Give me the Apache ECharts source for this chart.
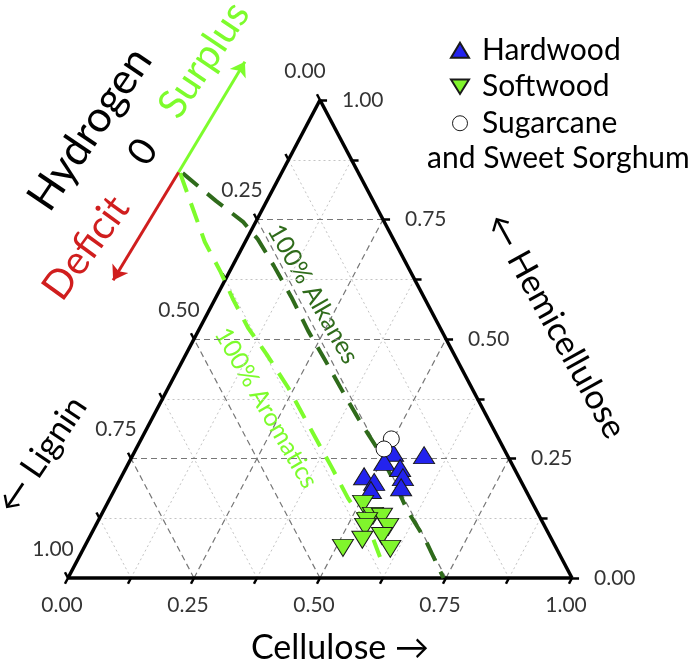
<!DOCTYPE html>
<html>
<head>
<meta charset="utf-8">
<script src="https://cdn.jsdelivr.net/npm/echarts@6/dist/echarts.min.js"></script>
<style>
  html, body { margin: 0; padding: 0; background: #fff; }
  #chart { width: 697px; height: 664px; }
</style>
</head>
<body>
<div id="chart"></div>
<script>
// tick values along each side of the triangle
const allTicks = [0, 0.125, 0.25, 0.375, 0.5, 0.625, 0.75, 0.875, 1]
const majorTicks = [0.25, 0.5, 0.75]
const minorTicks = [0.125, 0.375, 0.625, 0.875]
const labelValues = [0, 0.25, 0.5, 0.75, 1]
const tickLabels = ['0.00', '0.25', '0.50', '0.75', '1.00']

// samples as [cellulose, hemicellulose, lignin]
const hardwood = [
  [0.514, 0.262, 0.224],
  [0.578, 0.257, 0.165],
  [0.506, 0.243, 0.251],
  [0.544, 0.230, 0.226],
  [0.481, 0.213, 0.306],
  [0.507, 0.201, 0.292],
  [0.559, 0.211, 0.230],
  [0.566, 0.190, 0.244],
  [0.509, 0.184, 0.307]
]
const softwood = [
  [0.508, 0.155, 0.337],
  [0.540, 0.130, 0.330],
  [0.559, 0.128, 0.313],
  [0.534, 0.119, 0.347],
  [0.536, 0.107, 0.357],
  [0.582, 0.107, 0.311],
  [0.579, 0.088, 0.333],
  [0.544, 0.080, 0.376],
  [0.514, 0.063, 0.423],
  [0.609, 0.061, 0.330]
]
const sugarcane = [
  [0.496, 0.291, 0.213],
  [0.492, 0.270, 0.238]
]

// zero hydrogen balance curves, [cellulose, hemicellulose]
const alkanesCurve = [
  [-0.196, 0.847], [-0.101, 0.789], [-0.025, 0.745], [0.022, 0.709],
  [0.082, 0.653], [0.149, 0.588], [0.218, 0.517], [0.282, 0.456], [0.347, 0.393],
  [0.412, 0.331], [0.477, 0.272], [0.541, 0.207], [0.602, 0.142], [0.669, 0.080], [0.745, 0]
]
const aromaticsCurve = [
  [-0.201, 0.847], [-0.138, 0.772], [-0.080, 0.703], [-0.017, 0.640], [0.037, 0.582],
  [0.096, 0.523], [0.159, 0.469], [0.238, 0.398], [0.308, 0.329], [0.405, 0.234],
  [0.472, 0.167], [0.549, 0.100], [0.597, 0.044]
]
// hydrogen arrows: start, surplus tip, deficit tip
const arrowBase = [-0.205, 0.849]
const surplusTip = [-0.189, 1.080]
const deficitTip = [-0.222, 0.623]

const GREEN = '#7dfc2c'
const DARK_GREEN = '#2f6b1b'
const BLUE = '#2323ee'
const RED = '#d01e1e'
const FONT = 'Lato, "Open Sans", sans-serif'

// ternary -> cartesian (hemicellulose up, cellulose to the right)
const toXY = (c, h) => [c + h / 2, h]

const seg = (a, b) => ({ coords: [a, b] })

// grid lines for the three families
const gridLines = (vals) => {
  const out = []
  vals.forEach(t => {
    out.push(seg(toXY(0, t), toXY(1 - t, t)))   // hemicellulose = t
    out.push(seg(toXY(t, 0), toXY(t, 1 - t)))   // cellulose = t
    out.push(seg(toXY(1 - t, 0), toXY(0, 1 - t))) // lignin = t
  })
  return out
}

const k = 0.012
const tickSegs = []
allTicks.forEach(t => {
  const b = toXY(t, 0)
  tickSegs.push(seg(b, [b[0] - 0.5 * k, b[1] - k]))
  const r = toXY(1 - t, t)
  tickSegs.push(seg(r, [r[0] + 0.014, r[1]]))
  const l = toXY(0, 1 - t)
  tickSegs.push(seg(l, [l[0] - 0.5 * k, l[1] + k]))
})

const bottomLabels = labelValues.map((t, i) => ({ value: toXY(t, 0), name: tickLabels[i] }))
const rightLabels = labelValues.map((t, i) => ({ value: toXY(1 - t, t), name: tickLabels[i] }))
const leftLabels = labelValues.map((t, i) => ({ value: toXY(0, 1 - t), name: tickLabels[i] }))

const labelSeries = (data, offset, align) => ({
  type: 'scatter',
  symbolSize: 0,
  silent: true,
  data,
  label: {
    show: true,
    position: 'inside',
    offset,
    align,
    formatter: p => p.name,
    color: '#000',
    fontSize: 21,
    fontFamily: FONT
  }
})

const markers = (name, rows, symbol, color, size, rotate) => ({
  name,
  type: 'scatter',
  symbol,
  symbolSize: size,
  symbolRotate: rotate,
  data: rows.map(r => toXY(r[0], r[1])),
  itemStyle: { color, borderColor: '#1a1a1a', borderWidth: 1, opacity: 1 },
  z: 5
})

const curve = (pts, color) => ({
  type: 'lines',
  coordinateSystem: 'cartesian2d',
  polyline: true,
  silent: true,
  z: 3,
  data: [{ coords: pts.map(p => toXY(p[0], p[1])) }],
  lineStyle: { color, width: 4, type: [20, 12], opacity: 1, join: 'round' }
})

const chart = echarts.init(document.getElementById('chart'))

const texts = [
  { text: 'Hydrogen', x: 90, y: 129, rot: 56, size: 43, color: '#000' },
  { text: '0', x: 143, y: 152, rot: 56, size: 38, color: '#000' },
  { text: 'Surplus', x: 204, y: 60, rot: 56, size: 40, color: GREEN },
  { text: 'Deficit', x: 86, y: 248, rot: 54, size: 40, color: RED },
  { text: '100% Alkanes', x: 313, y: 294, rot: -60, size: 25, color: DARK_GREEN },
  { text: '100% Aromatics', x: 266, y: 408, rot: -60, size: 25, color: GREEN },
  { text: '← Lignin', x: 42, y: 455, rot: 56, size: 34, color: '#000' },
  { text: '← Hemicellulose', x: 556, y: 326, rot: -61, size: 34, color: '#000' },
  { text: 'Cellulose →', x: 340, y: 648, rot: 0, size: 34, color: '#000' }
]

chart.setOption({
  animation: false,
  backgroundColor: '#fff',
  grid: { left: 17.6, right: 24.2, top: 52.2, bottom: 38.2 },
  xAxis: { type: 'value', min: -0.1, max: 1.2, show: false },
  yAxis: { type: 'value', min: -0.1, max: 1.1, show: false },
  legend: {
    orient: 'vertical',
    left: 445,
    top: 27,
    itemGap: 0,
    itemWidth: 18,
    itemHeight: 15,
    data: [
      { name: 'Hardwood', icon: 'triangle' },
      { name: 'Softwood', icon: 'path://M0,0 L20,0 L10,16 Z' },
      { name: 'Sugarcane', icon: 'circle', itemStyle: { borderWidth: 1 } }
    ],
    textStyle: { fontSize: 30, fontFamily: FONT, color: '#000', lineHeight: 36.5, padding: [0, 0, 0, 8] }
  },
  graphic: texts.map(t => ({
    type: 'text',
    x: t.x,
    y: t.y,
    rotation: t.rot * Math.PI / 180,
    style: {
      text: t.text,
      fill: t.color,
      font: `${t.size}px ${FONT}`,
      textAlign: 'center',
      textVerticalAlign: 'middle'
    }
  })).concat([{
    type: 'text',
    left: 427,
    top: 143,
    style: { text: 'and Sweet Sorghum', fill: '#000', font: `30px ${FONT}` }
  }]),
  series: [
    {
      type: 'lines', coordinateSystem: 'cartesian2d', silent: true, z: 1,
      data: gridLines(minorTicks),
      lineStyle: { color: '#c4c4c4', width: 1, type: [2, 3], opacity: 1 }
    },
    {
      type: 'lines', coordinateSystem: 'cartesian2d', silent: true, z: 1,
      data: gridLines(majorTicks),
      lineStyle: { color: '#777', width: 1.2, type: [6, 4], opacity: 1 }
    },
    {
      type: 'lines', coordinateSystem: 'cartesian2d', silent: true, z: 2,
      data: [seg(toXY(0, 0), toXY(1, 0)), seg(toXY(1, 0), toXY(0, 1)), seg(toXY(0, 1), toXY(0, 0))],
      lineStyle: { color: '#000', width: 3.5, opacity: 1 }
    },
    {
      type: 'lines', coordinateSystem: 'cartesian2d', silent: true, z: 2,
      data: tickSegs,
      lineStyle: { color: '#000', width: 2.5, opacity: 1 }
    },
    curve(alkanesCurve, DARK_GREEN),
    curve(aromaticsCurve, GREEN),
    {
      type: 'lines', coordinateSystem: 'cartesian2d', silent: true, z: 4,
      symbol: ['none', 'arrow'], symbolSize: 14,
      data: [
        { coords: [toXY(...arrowBase), toXY(...surplusTip)], lineStyle: { color: GREEN } },
        { coords: [toXY(...arrowBase), toXY(...deficitTip)], lineStyle: { color: RED } }
      ],
      lineStyle: { width: 3, opacity: 1 }
    },
    labelSeries(bottomLabels, [-6, 27], 'center'),
    labelSeries(rightLabels, [22, 0], 'left'),
    labelSeries(leftLabels, [-15, -29], 'center'),
    markers('Hardwood', hardwood, 'triangle', BLUE, [21, 17], 0),
    markers('Softwood', softwood, 'triangle', '#80f52c', [21, 17], 180),
    markers('Sugarcane', sugarcane, 'circle', '#fff', 16, 0)
  ]
})
</script>
</body>
</html>
